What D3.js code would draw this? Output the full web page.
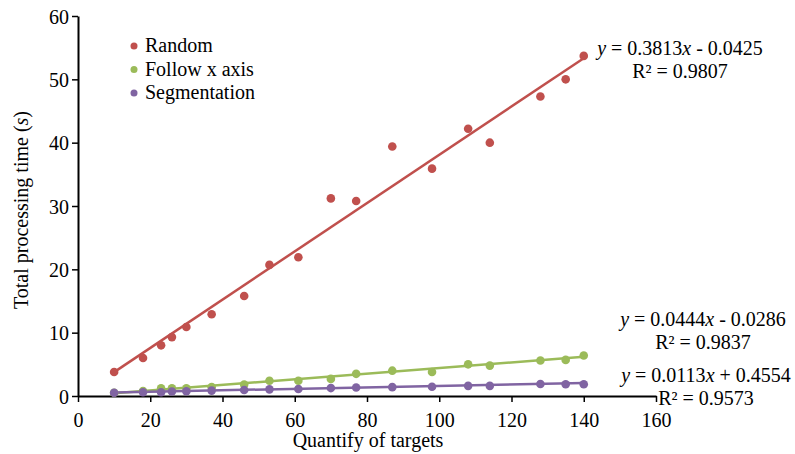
<!DOCTYPE html>
<html lang="en">
<head>
    <meta charset="UTF-8">
    <title>Total processing time vs quantity of targets</title>
    <script src="https://d3js.org/d3.v7.min.js"></script>
    <style>
        body {
            margin: 0;
            background: #fff;
        }

        svg text {
            font-family: "Liberation Serif", serif !important;
            font-size: 20px;
            fill: #000;
        }
    </style>
</head>
<body>

    <svg width="795" height="454"></svg>

    <script>
        const targets = [10, 18, 23, 26, 30, 37, 46, 53, 61, 70, 77, 87, 98, 108, 114, 128, 135, 140];
        const randomTime = [3.8, 6.0, 8.0, 9.3, 10.9, 12.9, 15.8, 20.7, 21.9, 31.2, 30.8, 39.4, 35.9, 42.2, 40.0, 47.3, 50.0, 53.7];
        const followTime = [0.5, 0.8, 1.2, 1.2, 1.2, 1.4, 1.8, 2.4, 2.4, 2.7, 3.5, 4.0, 3.8, 5.0, 4.8, 5.6, 5.7, 6.4];
        const segmentTime = [0.5, 0.6, 0.6, 0.7, 0.75, 0.85, 0.95, 1.05, 1.1, 1.25, 1.35, 1.4, 1.45, 1.6, 1.6, 1.9, 1.85, 1.85];

        const seriesNames = ["Random", "Follow x axis", "Segmentation"];
        const slopes = [0.3813, 0.0444, 0.0113];
        const intercepts = [-0.0425, -0.0286, 0.4554];
        const rSquared = ["0.9807", "0.9837", "0.9573"];
        const colors = ["#C0504D", "#9BBB59", "#8064A2"];

        const xTicks = [0, 20, 40, 60, 80, 100, 120, 140, 160];
        const yTicks = [0, 10, 20, 30, 40, 50, 60];

        const svg = d3.select("svg");

        const x = d3.scaleLinear().domain([0, 160]).range([78, 656]);
        const y = d3.scaleLinear().domain([0, 60]).range([396, 16]);

        // axes
        const xAxis = svg.append("g")
            .attr("transform", `translate(0,${y(0)})`)
            .call(d3.axisBottom(x).tickValues(xTicks).tickSize(6).tickSizeOuter(0).tickPadding(11));
        const yAxis = svg.append("g")
            .attr("transform", `translate(${x(0)},0)`)
            .call(d3.axisLeft(y).tickValues(yTicks).tickSize(6).tickSizeOuter(0).tickPadding(3));

        [xAxis, yAxis].forEach(a => {
            a.attr("font-family", null).attr("font-size", null);
            a.select(".domain").attr("stroke", "#000").attr("stroke-width", 2);
            a.selectAll(".tick line").attr("stroke", "#000").attr("stroke-width", 1.5);
        });
        xAxis.selectAll(".tick text").attr("dy", "0.71em");
        yAxis.selectAll(".tick text").attr("dy", "0.35em");

        // axis titles
        svg.append("text")
            .attr("x", 368).attr("y", 447)
            .attr("text-anchor", "middle")
            .text("Quantify of targets");

        const yTitle = svg.append("text")
            .attr("transform", "translate(28,210) rotate(-90)")
            .attr("text-anchor", "middle");
        yTitle.append("tspan").text("Total processing time (");
        yTitle.append("tspan").style("font-style", "italic").text("s");
        yTitle.append("tspan").text(")");

        const series = [randomTime, followTime, segmentTime];

        // trendlines
        series.forEach((vals, i) => {
            const x0 = d3.min(targets), x1 = d3.max(targets);
            svg.append("line")
                .attr("x1", x(x0)).attr("y1", y(slopes[i] * x0 + intercepts[i]))
                .attr("x2", x(x1)).attr("y2", y(slopes[i] * x1 + intercepts[i]))
                .attr("stroke", colors[i])
                .attr("stroke-width", 2.5);
        });

        // points
        series.forEach((vals, i) => {
            svg.append("g")
                .selectAll("circle")
                .data(targets.map((t, j) => [t, vals[j]]))
                .enter().append("circle")
                .attr("cx", d => x(d[0]))
                .attr("cy", d => y(d[1]))
                .attr("r", 4.3)
                .attr("fill", colors[i]);
        });

        // legend
        const legend = svg.append("g");
        seriesNames.forEach((name, i) => {
            const ly = 46 + i * 23.5;
            legend.append("circle")
                .attr("cx", 134).attr("cy", ly)
                .attr("r", 3.5)
                .attr("fill", colors[i]);
            legend.append("text")
                .attr("x", 145).attr("y", ly + 6)
                .text(name);
        });

        // equation labels
        const eqPos = [[680, 55], [703, 326], [706, 382]];
        series.forEach((vals, i) => {
            const [cx, cy] = eqPos[i];
            const eq = svg.append("text")
                .attr("x", cx).attr("y", cy)
                .attr("text-anchor", "middle");
            const sign = intercepts[i] < 0 ? " - " : " + ";
            eq.append("tspan").style("font-style", "italic").text("y");
            eq.append("tspan").text(" = " + slopes[i].toFixed(4));
            eq.append("tspan").style("font-style", "italic").text("x");
            eq.append("tspan").text(sign + Math.abs(intercepts[i]).toFixed(4));

            svg.append("text")
                .attr("x", cx).attr("y", cy + 22.5)
                .attr("text-anchor", "middle")
                .text("R² = " + rSquared[i]);
        });
    </script>

</body>
</html>
